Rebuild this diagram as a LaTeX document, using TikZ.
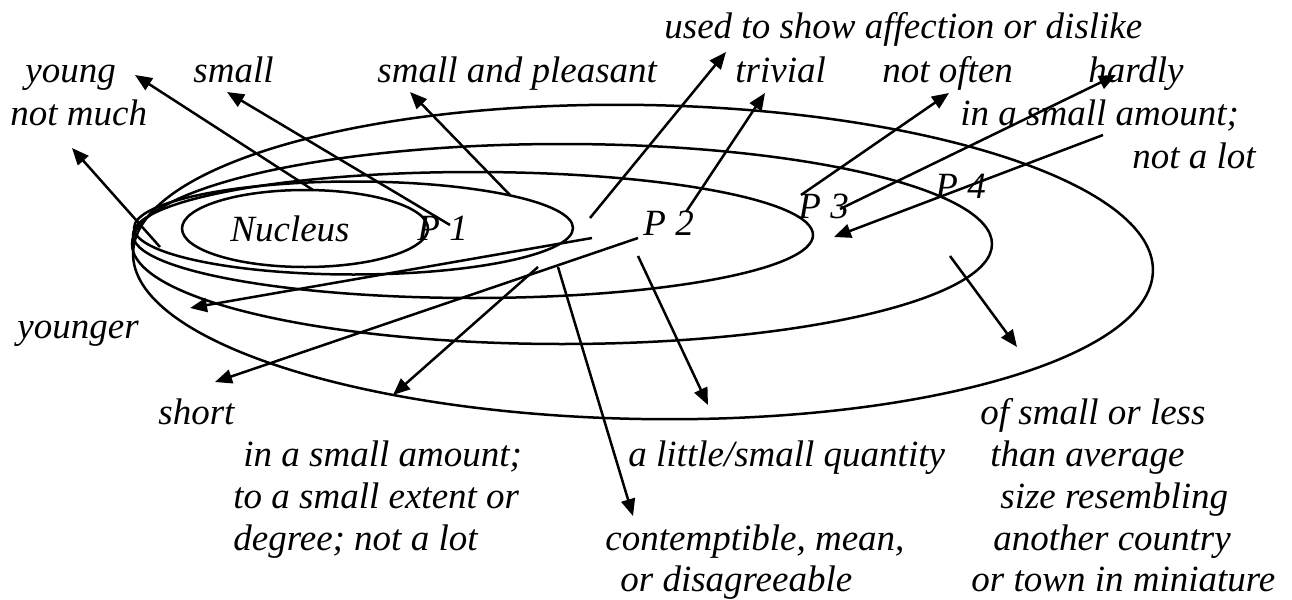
\documentclass[tikz,border=0pt]{standalone}
\usepackage{fontspec}
\setmainfont{Liberation Serif}
\usetikzlibrary{arrows.meta}
\begin{document}
\begin{tikzpicture}[x=0.5pt,y=-0.5pt,
  ring/.style={line width=1.25pt},
  arr/.style={line width=1.25pt,-{Triangle[length=8.5pt,width=7pt]}},
  lbl/.style={anchor=base west,inner sep=0pt,font=\fontsize{18.5}{22}\selectfont\itshape},
]
\useasboundingbox (0,0) rectangle (1292,600);
% rings
\draw[ring,rotate around={-1:(643,262)}] (643,262) ellipse [x radius=510, y radius=157];
\draw[ring] (562,244) ellipse [x radius=430, y radius=100];
\draw[ring] (473,235) ellipse [x radius=340, y radius=63];
\draw[ring] (353.5,228) ellipse [x radius=219.5, y radius=46.5];
\draw[ring] (305,228.5) ellipse [x radius=123, y radius=38.5];
% inner labels
\node[lbl] (nuc) at (230,241) {Nucleus};
\node[lbl] (p1) at (417,240) {P 1};
\node[lbl] (p2) at (643,235) {P 2};
\node[lbl] (p3) at (798,218) {P 3};
\node[lbl] (p4) at (935,198) {P 4};
% top labels
\node[lbl] (tUsed) at (664,38) {used to show affection or dislike};
\node[lbl] (tYoung) at (25,82) {young};
\node[lbl] (tSmall) at (193,82) {small};
\node[lbl] (tPleas) at (377,82) {small and pleasant};
\node[lbl] (tTriv) at (735,82) {trivial};
\node[lbl] (tOften) at (882,82) {not often};
\node[lbl] (tHardly) at (1088,82) {hardly};
\node[lbl] (tMuch) at (10,125) {not much};
\node[lbl] (tAmtA) at (960,125) {in a small amount;};
\node[lbl] (tAmtB) at (1132,168) {not a lot};
% bottom labels
\node[lbl] (bYounger) at (17,338) {younger};
\node[lbl] (bShort) at (158,424) {short};
\node[lbl] (bAmtA) at (243,466) {in a small amount;};
\node[lbl] (bAmtB) at (233,508) {to a small extent or};
\node[lbl] (bAmtC) at (233,550) {degree; not a lot};
\node[lbl] (bLittle) at (628,466) {a little/small quantity};
\node[lbl] (bCont) at (605,550) {contemptible, mean,};
\node[lbl] (bDis) at (620,591) {or disagreeable};
\node[lbl] (bSizeA) at (980,424) {of small or less};
\node[lbl] (bSizeB) at (990,466) {than average};
\node[lbl] (bSizeC) at (1000,508) {size resembling};
\node[lbl] (bSizeD) at (993,550) {another country};
\node[lbl] (bSizeE) at (971,591) {or town in miniature};
% connector end points
\coordinate (s1) at (313,190);  \coordinate (e1) at (135,75);
\coordinate (s2) at (160,247);  \coordinate (e2) at (72,148);
\coordinate (s3) at (450,225);  \coordinate (e3) at (227,92);
\coordinate (s4) at (510,195);  \coordinate (e4) at (410,92);
\coordinate (s5) at (590,218);  \coordinate (e5) at (726,52);
\coordinate (s6) at (686,212);  \coordinate (e6) at (765,93);
\coordinate (s7) at (801,195);  \coordinate (e7) at (949,93);
\coordinate (s8) at (840,209);  \coordinate (e8) at (1116,75);
\coordinate (s9) at (1103,135); \coordinate (e9) at (834,237);
\coordinate (s10) at (592,238); \coordinate (e10) at (190,308);
\coordinate (s11) at (638,238); \coordinate (e11) at (215,382);
\coordinate (s12) at (538,267); \coordinate (e12) at (393,395);
\coordinate (s13) at (558,267); \coordinate (e13) at (633,516);
\coordinate (s14) at (638,256); \coordinate (e14) at (708,405);
\coordinate (s15) at (950,256); \coordinate (e15) at (1017,347);
\foreach \i in {1,...,15} { \draw[arr] (s\i) -- (e\i); }
\end{tikzpicture}
\end{document}
